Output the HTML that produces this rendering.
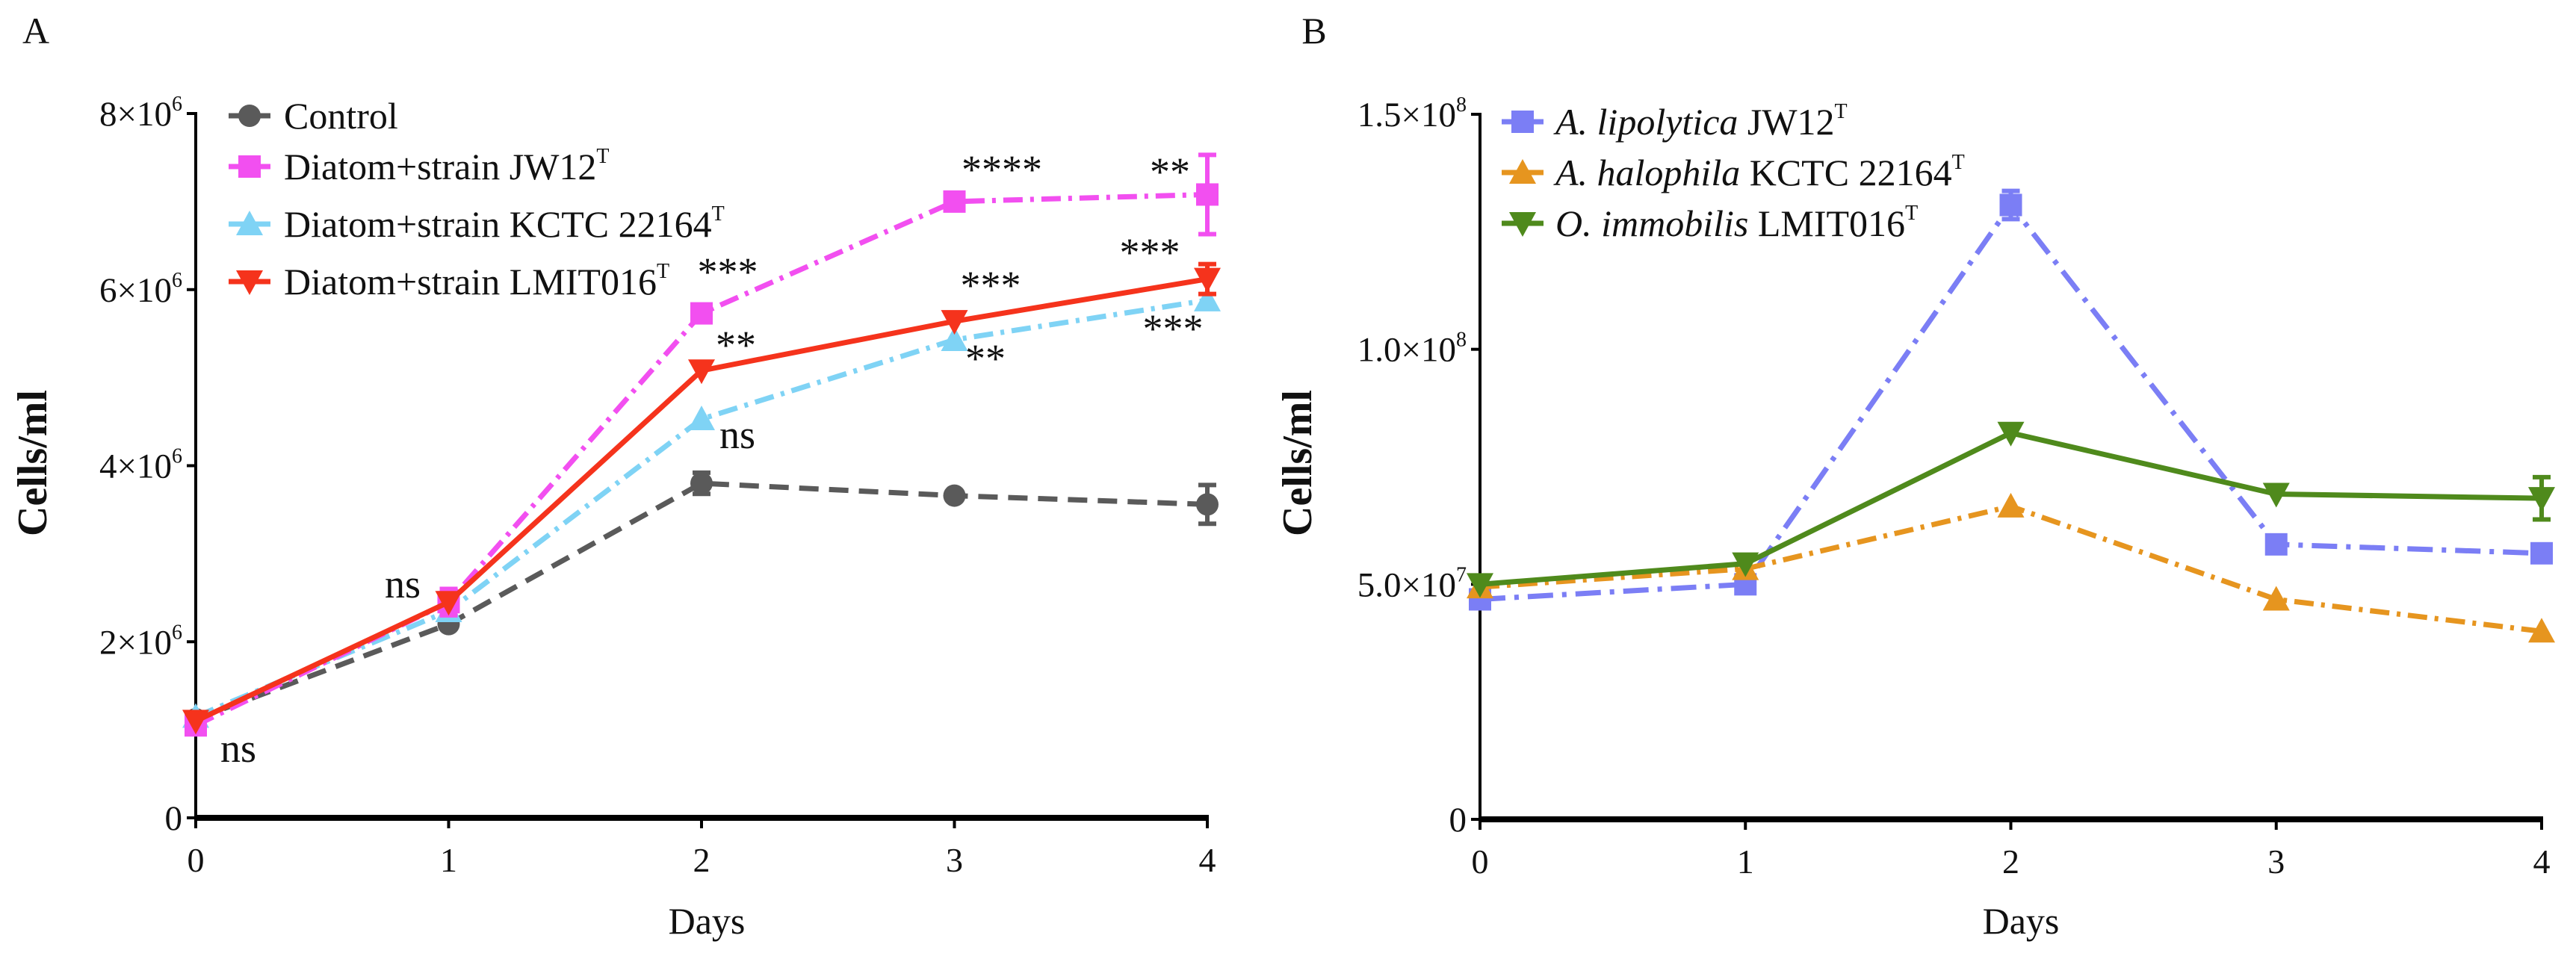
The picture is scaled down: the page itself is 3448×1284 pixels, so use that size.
<!DOCTYPE html>
<html><head><meta charset="utf-8"><style>
html,body{margin:0;padding:0;background:#fff}
svg{display:block}
text{font-family:"Liberation Serif",serif;fill:#111}
</style></head><body>
<svg id="fig" width="3448" height="1284" viewBox="0 0 3448 1284" xmlns="http://www.w3.org/2000/svg"></svg>
<script>
const days=[0,1,2,3,4];
const aTicks=[0,2,4,6,8];
const aTickLabels=["0","2×10","4×10","6×10","8×10"];
const aControl=[1.12,2.2,3.8,3.66,3.56];
const aControlErr=[0.05,0.05,0.12,0.05,0.22];
const aJW=[1.05,2.45,5.73,7.0,7.08];
const aJWErr=[0.05,0.15,0.05,0.05,0.45];
const aKCTC=[1.15,2.35,4.53,5.43,5.88];
const aKCTCErr=[0.03,0.05,0.05,0.05,0.05];
const aLMIT=[1.1,2.45,5.08,5.64,6.12];
const aLMITErr=[0.03,0.05,0.05,0.05,0.17];
const bTicks=[0,5,10,15];
const bTickLabels=["0","5.0×10","1.0×10","1.5×10"];
const bTickExp=["","7","8","8"];
const bJW=[4.68,5.0,13.07,5.85,5.66];
const bJWErr=[0.05,0.1,0.3,0.05,0.05];
const bKCTC=[4.94,5.33,6.66,4.68,4.0];
const bKCTCErr=[0.03,0.03,0.05,0.05,0.05];
const bLMIT=[5.0,5.44,8.22,6.92,6.83];
const bLMITErr=[0.03,0.03,0.05,0.05,0.45];

const NS="http://www.w3.org/2000/svg";
const svg=document.getElementById('fig');
function mk(tag,attrs,parent){const e=document.createElementNS(NS,tag);for(const k in attrs)e.setAttribute(k,attrs[k]);(parent||svg).appendChild(e);return e;}

const A={x0:262,x1:1616,y0:1095,y1:152,max:8};
const B={x0:1981,x1:3402,y0:1097,y1:153,max:15};
function sx(P,d){return P.x0+(P.x1-P.x0)*d/4;}
function sy(P,v){return P.y0-(P.y0-P.y1)*v/P.max;}

function marker(g,shape,x,y,c){
  const s=15;
  if(shape==='circle')return mk('circle',{cx:x,cy:y,r:s,fill:c},g);
  if(shape==='square')return mk('rect',{x:x-s,y:y-s,width:2*s,height:2*s,fill:c},g);
  if(shape==='up')return mk('polygon',{points:`${x},${y-s-3} ${x+s+3},${y+s} ${x-s-3},${y+s}`,fill:c},g);
  return mk('polygon',{points:`${x},${y+s+3} ${x+s+3},${y-s} ${x-s-3},${y-s}`,fill:c},g);
}

function axes(P,ticks,labels,exps,name){
  const g=mk('g',{});
  
  
  mk('line',{x1:P.x0,y1:P.y1-2,x2:P.x0,y2:P.y0,stroke:'#000','stroke-width':4},g);
  mk('line',{x1:P.x0-2,y1:P.y0,x2:P.x1+2,y2:P.y0,stroke:'#000','stroke-width':8},g);
  ticks.forEach((t,i)=>{
    const y=sy(P,t);
    mk('line',{x1:P.x0-12,y1:y,x2:P.x0,y2:y,stroke:'#000','stroke-width':4},g);
    const tx=mk('text',{x:P.x0-18,y:y+16,'text-anchor':'end','font-size':47},g);
    
    
    tx.textContent=labels[i];
    if(exps[i]){const ts=mk('tspan',{'font-size':28,dy:-20},tx);ts.textContent=exps[i];}
  });
  days.forEach(d=>{
    const x=sx(P,d);
    mk('line',{x1:x,y1:P.y0,x2:x,y2:P.y0+14,stroke:'#000','stroke-width':4},g);
    const tx=mk('text',{x:x,y:P.y0+72,'text-anchor':'middle','font-size':46},g);
    
    
    tx.textContent=d;
  });
}

function series(P,vals,errs,color,dash,shape,name){
  const g=mk('g',{});
  
  
  const pts=days.map((d,i)=>sx(P,d)+','+sy(P,vals[i])).join(' ');
  const attrs={points:pts,fill:'none',stroke:color,'stroke-width':7};
  if(dash)attrs['stroke-dasharray']=dash;
  mk('polyline',attrs,g);
  days.forEach((d,i)=>{
    const x=sx(P,d),yt=sy(P,vals[i]+errs[i]),yb=sy(P,vals[i]-errs[i]);
    if(errs[i]>0.08){
      mk('line',{x1:x,y1:yt,x2:x,y2:yb,stroke:color,'stroke-width':6},g);
      mk('line',{x1:x-12,y1:yt,x2:x+12,y2:yt,stroke:color,'stroke-width':6},g);
      mk('line',{x1:x-12,y1:yb,x2:x+12,y2:yb,stroke:color,'stroke-width':6},g);
    }
    const m=marker(g,shape,x,sy(P,vals[i]),color);
    
    
  });
}

function text(x,y,s,size,name,extra){
  const t=mk('text',Object.assign({x:x,y:y,'font-size':size},extra||{}));
  
  
  t.textContent=s;return t;
}

// Panel A
axes(A,aTicks,aTickLabels,["","6","6","6","6"],'panel-a');
series(A,aControl,aControlErr,'#5a5a5a','26,14',"circle",'series-control');
series(A,aKCTC,aKCTCErr,'#7fd3f5','26,10,5,10',"up",'series-a-kctc');
series(A,aJW,aJWErr,'#f24ff0','26,10,5,10',"square",'series-a-jw12');
series(A,aLMIT,aLMITErr,'#f5331c',null,"down",'series-a-lmit');
text(48,58,'A',50,'panel-a-label',{'text-anchor':'middle'});
text(0,0,'Cells/ml',56,'panel-a-y-axis-title',{'text-anchor':'middle','font-weight':'bold',transform:'translate(62,620) rotate(-90)'});
text(946,1250,'Days',50,'panel-a-x-axis-title',{'text-anchor':'middle'});
const aLeg=[['Control','#5a5a5a','circle',''],['Diatom+strain JW12','#f24ff0','square','T'],['Diatom+strain KCTC 22164','#7fd3f5','up','T'],['Diatom+strain LMIT016','#f5331c','down','T']];
const aLegY=[155,223,300,377];
aLeg.forEach((l,i)=>{
  const g=mk('g',{});
  
  
  mk('line',{x1:306,y1:aLegY[i],x2:362,y2:aLegY[i],stroke:l[1],'stroke-width':7},g);
  marker(g,l[2],334,aLegY[i],l[1]);
  const t=mk('text',{x:380,y:aLegY[i]+17,'font-size':50},g);
  t.textContent=l[0];
  if(l[3]){const ts=mk('tspan',{'font-size':28,dy:-22},t);ts.textContent=l[3];}
});
const ann=[['ns',319,1020],['ns',539,800],['***',974,382],['**',985,480],['ns',987,600],['****',1341,245],['***',1326,400],['**',1319,498],['**',1566,248],['***',1539,356],['***',1570,458]];
ann.forEach(a=>text(a[1],a[2],a[0],54,'significance-label',{'text-anchor':'middle'}));

// Panel B
axes(B,bTicks,bTickLabels,bTickExp,'panel-b');
series(B,bJW,bJWErr,'#7b7ef5','34,12,6,12',"square",'series-b-jw12');
series(B,bKCTC,bKCTCErr,'#e6951f','26,10,5,10',"up",'series-b-kctc');
series(B,bLMIT,bLMITErr,'#4f8a1c',null,"down",'series-b-lmit');
text(1759,58,'B',50,'panel-b-label',{'text-anchor':'middle'});
text(0,0,'Cells/ml',56,'panel-b-y-axis-title',{'text-anchor':'middle','font-weight':'bold',transform:'translate(1755,620) rotate(-90)'});
text(2705,1250,'Days',50,'panel-b-x-axis-title',{'text-anchor':'middle'});
const bLeg=[['A. lipolytica','  JW12','#7b7ef5','square'],['A. halophila',' KCTC 22164','#e6951f','up'],['O. immobilis',' LMIT016','#4f8a1c','down']];
const bLegY=[163,231,299];
bLeg.forEach((l,i)=>{
  const g=mk('g',{});
  
  
  mk('line',{x1:2010,y1:bLegY[i],x2:2066,y2:bLegY[i],stroke:l[2],'stroke-width':7},g);
  marker(g,l[3],2038,bLegY[i],l[2]);
  const t=mk('text',{x:2082,y:bLegY[i]+17,'font-size':50,'xml:space':'preserve'},g);
  const it=mk('tspan',{'font-style':'italic'},t);it.textContent=l[0];
  const r=mk('tspan',{},t);r.textContent=l[1];
  const ts=mk('tspan',{'font-size':28,dy:-22},t);ts.textContent='T';
});
</script>
</body></html>
